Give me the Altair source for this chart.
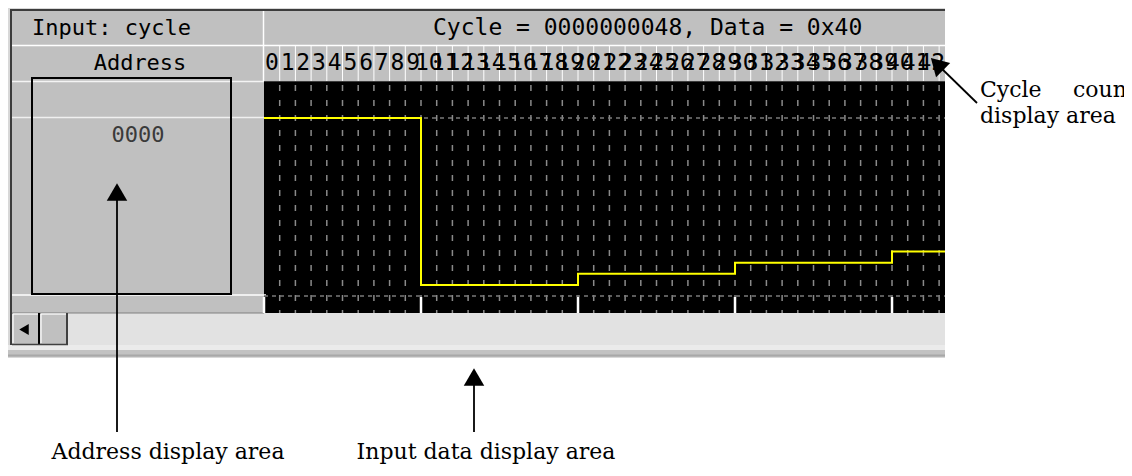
import altair as alt
import pandas as pd

# page margin: layout rows below are written in screenshot pixels and shifted by it
OX, OY = 8, 8

# ---------------- data ----------------
cycle_numbers = [0, 1, 2, 3, 4, 5, 6, 7, 8, 9, 10, 11, 12, 13, 14, 15, 16, 17, 18, 19, 20,
                 21, 22, 23, 24, 25, 26, 27, 28, 29, 30, 31, 32, 33, 34, 35, 36, 37, 38, 39,
                 40, 41, 42]
grid_cycles = [1, 2, 3, 4, 5, 6, 7, 8, 9, 10, 11, 12, 13, 14, 15, 16, 17, 18, 19, 20, 21, 22,
               23, 24, 25, 26, 27, 28, 29, 30, 31, 32, 33, 34, 35, 36, 37, 38, 39, 40, 41, 42, 43]
marker_cycles = [0, 10, 20, 30, 40]
step_cycles = [0, 10, 20, 30, 40, 44]
step_values = [0xFF, 0x10, 0x20, 0x30, 0x40, 0x40]

header_left = "Input: cycle"
header_right = "Cycle = 0000000048, Data = 0x40"
column_title = "Address"
address_value = "0000"
note_address = "Address display area"
note_input = "Input data display area"
note_cycle_1a = "Cycle"
note_cycle_1b = "coun"
note_cycle_2 = "display area"

# ---------------- scales ----------------
VISIBLE_CYCLES = 43.375
cyc = alt.Scale(domain=[0, VISIBLE_CYCLES], range=[264 - OX, 945 - OX], clamp=True)
val = alt.Scale(domain=[0, 255], range=[296.2 - OY, 118 - OY])

MONO = "DejaVu Sans Mono"
SERIF = "DejaVu Serif"


def px_rects(rows):
    return pd.DataFrame([dict(x=a - OX, y=b - OY, x2=c - OX, y2=d - OY, c=col)
                         for a, b, c, d, col in rows])


def px_lines(rows):
    return pd.DataFrame([dict(x=a - OX, y=b - OY, x2=c - OX, y2=d - OY, c=col, w=w)
                         for a, b, c, d, col, w in rows])


def idx(f="x"):
    return alt.X(f"{f}:Q", scale=None, axis=None)


def idy(f="y"):
    return alt.Y(f"{f}:Q", scale=None, axis=None)


# ---------------- window chrome ----------------
chrome_rects = px_rects([
    (7, 5, 945, 358, "#d8d8d8"),
    (10, 9, 945, 345, "#3c3c3c"),
    (12, 11, 264, 313, "#c0c0c0"),
    (264, 11, 945, 45, "#c0c0c0"),
    (264, 46, 945, 81, "#c0c0c0"),
    (264, 82, 945, 313, "#000000"),
    (12, 313, 945, 345, "#e2e2e2"),
    (12, 313, 39, 344, "#c0c0c0"),
    (40, 313, 67, 344, "#c0c0c0"),
    (7, 345, 945, 350, "#ebebeb"),
    (7, 350, 945, 357, "#c2c2c2"),
])
chrome = alt.Chart(chrome_rects).mark_rect().encode(
    x=idx(), x2="x2:Q", y=idy(), y2="y2:Q",
    color=alt.Color("c:N", scale=None, legend=None))

chrome_lines = px_lines([
    (12, 45.5, 945, 45.5, "#ffffff", 1.5),
    (12, 81.5, 264, 81.5, "#f4f4f4", 1.5),
    (12, 117.5, 264, 117.5, "#f0f0f0", 1.5),
    (12, 295, 266, 295, "#ffffff", 1.5),
    (263.5, 11, 263.5, 81, "#ffffff", 1.5),
    (12, 313, 264, 313, "#808080", 1.2),
    (13, 314, 38, 314, "#ffffff", 1.2),
    (13, 314, 13, 343, "#ffffff", 1.2),
    (39, 313, 39, 345, "#000000", 2),
    (41, 314, 66, 314, "#ffffff", 1.2),
    (41, 314, 41, 343, "#ffffff", 1.2),
    (67, 313, 67, 345, "#404040", 2),
    (12, 344.5, 68, 344.5, "#404040", 1.5),
    (7, 355.5, 945, 355.5, "#a8a8a8", 2),
])
chrome_rules = alt.Chart(chrome_lines).mark_rule().encode(
    x=idx(), x2="x2:Q", y=idy(), y2="y2:Q",
    color=alt.Color("c:N", scale=None, legend=None),
    strokeWidth=alt.StrokeWidth("w:Q", scale=None, legend=None))

# ---------------- data area ----------------
df_labels = pd.DataFrame({"c": cycle_numbers, "t": [str(v) for v in cycle_numbers]})
df_grid = pd.DataFrame({"c": grid_cycles})
df_mark = pd.DataFrame({"c": marker_cycles})
df_step = pd.DataFrame({"c": step_cycles, "v": step_values})
df_hdash = pd.DataFrame({"c0": [0, 0], "c1": [VISIBLE_CYCLES, VISIBLE_CYCLES],
                         "y": [118 - OY, 296 - OY]})

label_seps = alt.Chart(df_grid).mark_rule(color="#ffffff", strokeWidth=1).encode(
    x=alt.X("c:Q", scale=cyc, axis=None),
    y=alt.value(46 - OY), y2=alt.value(81 - OY))

grid = alt.Chart(df_grid).mark_rule(color="#8a8a8a", strokeWidth=1.5,
                                     strokeDash=[6, 9], strokeDashOffset=12).encode(
    x=alt.X("c:Q", scale=cyc, axis=None),
    y=alt.value(82 - OY), y2=alt.value(313 - OY))

hdash = alt.Chart(df_hdash).mark_rule(color="#7a7a7a", strokeWidth=1.5,
                                      strokeDash=[4, 4]).encode(
    x=alt.X("c0:Q", scale=cyc, axis=None), x2="c1:Q", y=idy())

ticks = alt.Chart(df_mark).mark_rule(color="#ffffff", strokeWidth=2.5).encode(
    x=alt.X("c:Q", scale=cyc, axis=None),
    y=alt.value(297 - OY), y2=alt.value(313 - OY))

step = alt.Chart(df_step).mark_line(interpolate="step-after", color="#ffff00",
                                    strokeWidth=2).encode(
    x=alt.X("c:Q", scale=cyc, axis=None),
    y=alt.Y("v:Q", scale=val, axis=None))

labels = alt.Chart(df_labels).transform_calculate(mid="datum.c + 0.5").mark_text(
    font=MONO, fontSize=23, color="#000000", align="center", baseline="middle").encode(
    x=alt.X("mid:Q", scale=cyc, axis=None), y=alt.value(63 - OY), text="t:N")


# ---------------- texts ----------------
def text_layer(rows, **mk):
    df = pd.DataFrame([dict(x=a - OX, y=b - OY, t=t) for a, b, t in rows])
    return alt.Chart(df).mark_text(**mk).encode(x=idx(), y=idy(), text="t:N")


ui_left = text_layer([(32, 28, header_left)],
                     font=MONO, fontSize=22, align="left", baseline="middle", color="#000")
ui_head = text_layer([(433, 28, header_right)],
                     font=MONO, fontSize=23, align="left", baseline="middle", color="#000")
ui_center = text_layer([(140, 63, column_title)],
                       font=MONO, fontSize=22, align="center", baseline="middle", color="#000")
ui_value = text_layer([(138, 135, address_value)],
                      font=MONO, fontSize=22, align="center", baseline="middle", color="#3a3a3a")

notes_left = text_layer([(980, 97, note_cycle_1a), (1073, 97, note_cycle_1b),
                         (980, 123, note_cycle_2)],
                        font=SERIF, fontSize=22, align="left", baseline="alphabetic", color="#000")
notes_center = text_layer([(168, 459, note_address), (486, 459, note_input)],
                          font=SERIF, fontSize=22, align="center", baseline="alphabetic",
                          color="#000")

# ---------------- annotation box and arrows ----------------
box = alt.Chart(px_rects([(32, 78, 231, 294, "#000")])).mark_rect(
    filled=False, stroke="#000000", strokeWidth=2).encode(x=idx(), x2="x2:Q", y=idy(), y2="y2:Q")

arrow_lines = alt.Chart(px_lines([
    (117, 200, 117, 432, "#000000", 1.8),
    (474, 385, 474, 432, "#000000", 1.8),
    (977, 103, 939, 66, "#000000", 1.8),
])).mark_rule().encode(
    x=idx(), x2="x2:Q", y=idy(), y2="y2:Q",
    color=alt.Color("c:N", scale=None, legend=None),
    strokeWidth=alt.StrokeWidth("w:Q", scale=None, legend=None))

heads = pd.DataFrame([
    dict(x=117 - OX, y=192 - OY, s=420, a=0, sh="triangle-up"),
    dict(x=474 - OX, y=377 - OY, s=420, a=0, sh="triangle-up"),
    dict(x=937 - OX, y=64 - OY, s=400, a=315, sh="triangle-up"),
    dict(x=24 - OX, y=329.5 - OY, s=121, a=0, sh="triangle-left"),
])
arrow_heads = alt.Chart(heads).mark_point(filled=True, color="#000000", opacity=1).encode(
    x=idx(), y=idy(),
    size=alt.Size("s:Q", scale=None, legend=None),
    angle=alt.Angle("a:Q", scale=None),
    shape=alt.Shape("sh:N", scale=None, legend=None))

chart = alt.layer(
    chrome, chrome_rules, label_seps, grid, hdash, ticks, step, labels,
    ui_left, ui_head, ui_center, ui_value, box, arrow_lines, arrow_heads,
    notes_left, notes_center,
).resolve_scale(x="independent", y="independent").properties(
    width=1116, height=456, padding=0, autosize="none", background="white"
).configure_view(stroke=None, strokeWidth=0)

chart.save("out.html", embed_options={"renderer": "svg", "actions": False})
